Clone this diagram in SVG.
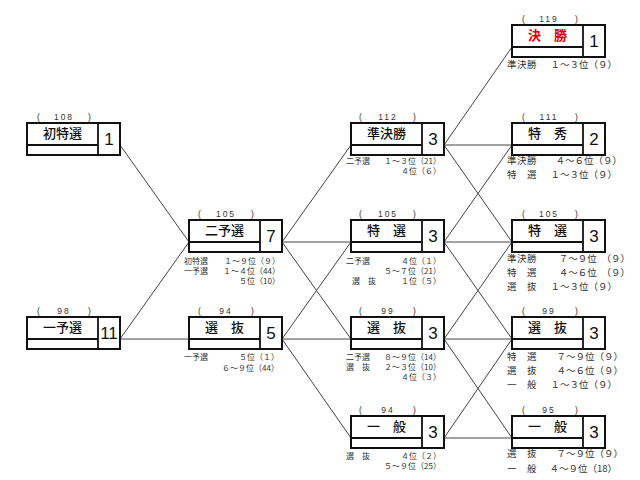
<svg xmlns="http://www.w3.org/2000/svg" width="640" height="480" viewBox="0 0 640 480">
<style>
.bx{fill:#fff;stroke:#111;stroke-width:2}
.dv{stroke:#111;stroke-width:1.8;fill:none}
.nm{font-family:"Noto Sans CJK JP","Noto Sans",sans-serif;font-size:13px;font-weight:500;text-anchor:middle;fill:#111}
.red{fill:#e00000;font-weight:bold}
.num{font-family:"Liberation Sans",Arial,sans-serif;font-size:17px;text-anchor:middle;fill:#111}
.br{font-family:"Liberation Sans",Arial,sans-serif;font-size:8.5px;fill:#333}
.bn{font-family:"Liberation Sans",Arial,sans-serif;font-size:8.5px;fill:#333;text-anchor:middle;letter-spacing:2px}
.lb{font-family:"Noto Sans CJK JP",sans-serif;font-size:8px;fill:#333}
.vl{font-family:"Noto Sans CJK JP",sans-serif;font-size:8px;fill:#333;text-anchor:end}
.lb4{font-family:"Noto Sans CJK JP",sans-serif;font-size:9.5px;fill:#333;letter-spacing:0.5px}
.vl4{font-family:"Noto Sans CJK JP",sans-serif;font-size:9.5px;fill:#333;text-anchor:end}
.cn{stroke:#444;stroke-width:1;fill:none}
</style>
<rect width="640" height="480" fill="#fff"/>

<g id="connectors" class="cn">
<line x1="120" y1="145" x2="189" y2="242"/>
<line x1="120" y1="339" x2="189" y2="242"/>
<line x1="120" y1="339" x2="189" y2="339"/>
<line x1="282" y1="242" x2="351" y2="145"/>
<line x1="282" y1="242" x2="351" y2="242"/>
<line x1="282" y1="242" x2="351" y2="339"/>
<line x1="282" y1="339" x2="351" y2="242"/>
<line x1="282" y1="339" x2="351" y2="339"/>
<line x1="282" y1="339" x2="351" y2="438"/>
<line x1="444" y1="145" x2="512" y2="47"/>
<line x1="444" y1="145" x2="512" y2="145"/>
<line x1="444" y1="145" x2="512" y2="242"/>
<line x1="444" y1="242" x2="512" y2="145"/>
<line x1="444" y1="242" x2="512" y2="242"/>
<line x1="444" y1="242" x2="512" y2="339"/>
<line x1="444" y1="339" x2="512" y2="242"/>
<line x1="444" y1="339" x2="512" y2="339"/>
<line x1="444" y1="339" x2="512" y2="438"/>
<line x1="444" y1="438" x2="512" y2="339"/>
<line x1="444" y1="438" x2="512" y2="438"/>
</g>

<g id="n-shotokusen">
<text class="br" x="37" y="120">(</text><text class="bn" x="64" y="120">108</text><text class="br" x="88" y="120">)</text>
<rect class="bx" x="27" y="123" width="93" height="32"/>
<line class="dv" x1="98" y1="123" x2="98" y2="155"/><line class="dv" x1="27" y1="145" x2="98" y2="145"/>
<text class="nm" x="62.5" y="137.5">初特選</text><text class="num" x="109" y="144.5">1</text>
</g>

<g id="n-ichiyosen">
<text class="br" x="37" y="314">(</text><text class="bn" x="64" y="314">98</text><text class="br" x="88" y="314">)</text>
<rect class="bx" x="27" y="317" width="93" height="32"/>
<line class="dv" x1="98" y1="317" x2="98" y2="349"/><line class="dv" x1="27" y1="339" x2="98" y2="339"/>
<text class="nm" x="62.5" y="331.5">一予選</text><text class="num" x="109" y="338.5">11</text>
</g>

<g id="n-niyosen">
<text class="br" x="198" y="217">(</text><text class="bn" x="226" y="217">105</text><text class="br" x="251" y="217">)</text>
<rect class="bx" x="189" y="220" width="93" height="32"/>
<line class="dv" x1="260" y1="220" x2="260" y2="252"/><line class="dv" x1="189" y1="242" x2="260" y2="242"/>
<text class="nm" x="224.5" y="234.5">二予選</text><text class="num" x="271" y="241.5">7</text>
<text class="lb" x="184" y="264">初特選</text><text class="vl" x="280" y="264">１～９位（９）</text>
<text class="lb" x="184" y="274">一予選</text><text class="vl" x="280" y="274">１～４位（44）</text>
<text class="vl" x="280" y="284">５位（10）</text>
</g>

<g id="n-senbatsu2">
<text class="br" x="198" y="314">(</text><text class="bn" x="226" y="314">94</text><text class="br" x="251" y="314">)</text>
<rect class="bx" x="189" y="317" width="93" height="32"/>
<line class="dv" x1="260" y1="317" x2="260" y2="349"/><line class="dv" x1="189" y1="339" x2="260" y2="339"/>
<text class="nm" x="224.5" y="331.5">選　抜</text><text class="num" x="271" y="338.5">5</text>
<text class="lb" x="184" y="360">一予選</text><text class="vl" x="279" y="360">５位（１）</text>
<text class="vl" x="279" y="371">６～９位（44）</text>
</g>

<g id="n-junkessho">
<text class="br" x="359" y="120">(</text><text class="bn" x="388" y="120">112</text><text class="br" x="413" y="120">)</text>
<rect class="bx" x="351" y="123" width="93" height="32"/>
<line class="dv" x1="422" y1="123" x2="422" y2="155"/><line class="dv" x1="351" y1="145" x2="422" y2="145"/>
<text class="nm" x="386.5" y="137.5">準決勝</text><text class="num" x="433" y="144.5">3</text>
<text class="lb" x="346" y="164">二予選</text><text class="vl" x="441" y="164">１～３位（21）</text>
<text class="vl" x="441" y="174">４位（６）</text>
</g>

<g id="n-tokusen3">
<text class="br" x="359" y="217">(</text><text class="bn" x="388" y="217">105</text><text class="br" x="413" y="217">)</text>
<rect class="bx" x="351" y="220" width="93" height="32"/>
<line class="dv" x1="422" y1="220" x2="422" y2="252"/><line class="dv" x1="351" y1="242" x2="422" y2="242"/>
<text class="nm" x="386.5" y="234.5">特　選</text><text class="num" x="433" y="241.5">3</text>
<text class="lb" x="346" y="264">二予選</text><text class="vl" x="441" y="264">４位（１）</text>
<text class="vl" x="441" y="274">５～７位（21）</text>
<text class="lb" x="352" y="284">選　抜</text><text class="vl" x="441" y="284">１位（５）</text>
</g>

<g id="n-senbatsu3">
<text class="br" x="359" y="314">(</text><text class="bn" x="388" y="314">99</text><text class="br" x="413" y="314">)</text>
<rect class="bx" x="351" y="317" width="93" height="32"/>
<line class="dv" x1="422" y1="317" x2="422" y2="349"/><line class="dv" x1="351" y1="339" x2="422" y2="339"/>
<text class="nm" x="386.5" y="331.5">選　抜</text><text class="num" x="433" y="338.5">3</text>
<text class="lb" x="346" y="360">二予選</text><text class="vl" x="441" y="360">８～９位（14）</text>
<text class="lb" x="346" y="370">選　抜</text><text class="vl" x="441" y="370">２～３位（10）</text>
<text class="vl" x="441" y="380">４位（３）</text>
</g>

<g id="n-ippan3">
<text class="br" x="359" y="413">(</text><text class="bn" x="388" y="413">94</text><text class="br" x="413" y="413">)</text>
<rect class="bx" x="351" y="416" width="93" height="32"/>
<line class="dv" x1="422" y1="416" x2="422" y2="448"/><line class="dv" x1="351" y1="438" x2="422" y2="438"/>
<text class="nm" x="386.5" y="430.5">一　般</text><text class="num" x="433" y="437.5">3</text>
<text class="lb" x="346" y="459">選　抜</text><text class="vl" x="441" y="459">４位（２）</text>
<text class="vl" x="441" y="469">５～９位（25）</text>
</g>

<g id="n-kessho">
<text class="br" x="522" y="22">(</text><text class="bn" x="549" y="22">119</text><text class="br" x="575" y="22">)</text>
<rect class="bx" x="512" y="25" width="93" height="32"/>
<line class="dv" x1="583" y1="25" x2="583" y2="57"/><line class="dv" x1="512" y1="47" x2="583" y2="47"/>
<text class="nm red" x="547.5" y="39.5">決　勝</text><text class="num" x="594" y="46.5">1</text>
<text class="lb4" x="507" y="68">準決勝</text><text class="vl4" x="617" y="68">１～３位（９）</text>
</g>

<g id="n-tokushu">
<text class="br" x="522" y="120">(</text><text class="bn" x="549" y="120">111</text><text class="br" x="575" y="120">)</text>
<rect class="bx" x="512" y="123" width="93" height="32"/>
<line class="dv" x1="583" y1="123" x2="583" y2="155"/><line class="dv" x1="512" y1="145" x2="583" y2="145"/>
<text class="nm" x="547.5" y="137.5">特　秀</text><text class="num" x="594" y="144.5">2</text>
<text class="lb4" x="507" y="164">準決勝</text><text class="vl4" x="622" y="164">４～６位（９）</text>
<text class="lb4" x="507" y="178">特　選</text><text class="vl4" x="617" y="178">１～３位（９）</text>
</g>

<g id="n-tokusen4">
<text class="br" x="522" y="217">(</text><text class="bn" x="549" y="217">105</text><text class="br" x="575" y="217">)</text>
<rect class="bx" x="512" y="220" width="93" height="32"/>
<line class="dv" x1="583" y1="220" x2="583" y2="252"/><line class="dv" x1="512" y1="242" x2="583" y2="242"/>
<text class="nm" x="547.5" y="234.5">特　選</text><text class="num" x="594" y="241.5">3</text>
<text class="lb4" x="507" y="262">準決勝</text><text class="vl4" x="630" y="262">７～９位　（９）</text>
<text class="lb4" x="507" y="276">特　選</text><text class="vl4" x="630" y="276">４～６位　（９）</text>
<text class="lb4" x="507" y="290">選　抜</text><text class="vl4" x="617" y="290">１～３位（９）</text>
</g>

<g id="n-senbatsu4">
<text class="br" x="522" y="314">(</text><text class="bn" x="549" y="314">99</text><text class="br" x="575" y="314">)</text>
<rect class="bx" x="512" y="317" width="93" height="32"/>
<line class="dv" x1="583" y1="317" x2="583" y2="349"/><line class="dv" x1="512" y1="339" x2="583" y2="339"/>
<text class="nm" x="547.5" y="331.5">選　抜</text><text class="num" x="594" y="338.5">3</text>
<text class="lb4" x="507" y="360">特　選</text><text class="vl4" x="623" y="360">７～９位（９）</text>
<text class="lb4" x="507" y="374">選　抜</text><text class="vl4" x="623" y="374">４～６位（９）</text>
<text class="lb4" x="507" y="388">一　般</text><text class="vl4" x="617" y="388">１～３位（９）</text>
</g>

<g id="n-ippan4">
<text class="br" x="522" y="413">(</text><text class="bn" x="549" y="413">95</text><text class="br" x="575" y="413">)</text>
<rect class="bx" x="512" y="416" width="93" height="32"/>
<line class="dv" x1="583" y1="416" x2="583" y2="448"/><line class="dv" x1="512" y1="438" x2="583" y2="438"/>
<text class="nm" x="547.5" y="430.5">一　般</text><text class="num" x="594" y="437.5">3</text>
<text class="lb4" x="507" y="457">選　抜</text><text class="vl4" x="623" y="457">７～９位（９）</text>
<text class="lb4" x="507" y="472">一　般</text><text class="vl4" x="617" y="472">４～９位（18）</text>
</g>
</svg>
